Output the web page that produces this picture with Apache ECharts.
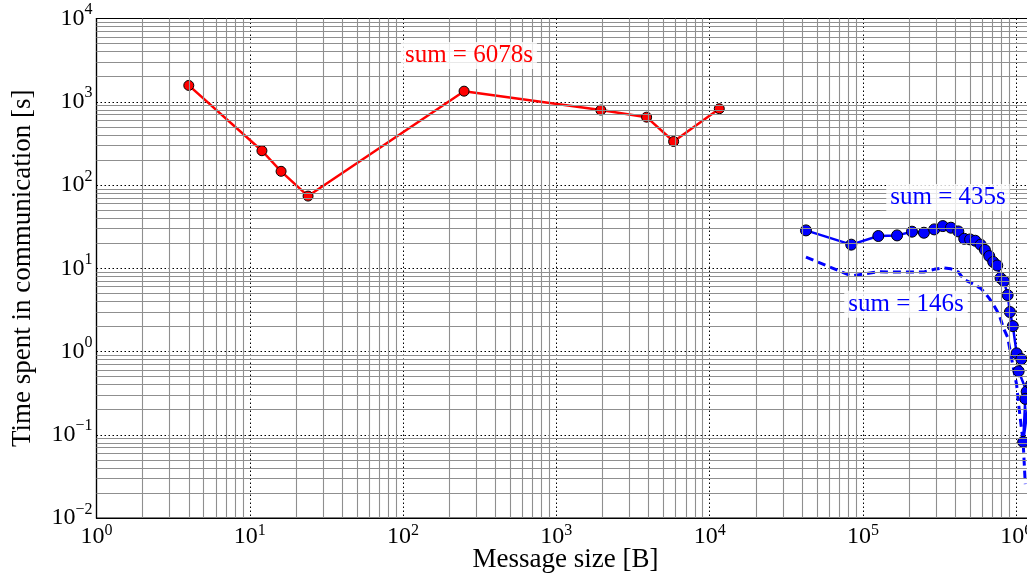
<!DOCTYPE html>
<html><head><meta charset="utf-8">
<script src="https://cdn.jsdelivr.net/npm/echarts@6/dist/echarts.min.js"></script>
<style>html,body{margin:0;padding:0;background:#fff}#c{width:1027px;height:579px}</style>
</head><body><div id="c"></div>
<script>
// ---- data ----
const redX = [4, 12, 16, 24, 250, 1950, 3880, 5820, 11560];
const redY = [1570, 258, 146, 73.6, 1340, 794, 653, 333, 824];

const blueX = [42500, 83900, 126000, 167000, 209000, 250000, 292000, 332000, 375000, 419000,
  458000, 500000, 541000, 586000, 625000, 667000, 708000, 752000, 790000, 832000,
  879000, 910000, 951000, 1006000, 1080000, 1037000, 1170000, 1146000, 1110000, 1250000];
const blueY = [28.5, 19.2, 24.4, 24.8, 27.5, 26.7, 29.3, 32.1, 30.7, 27.7,
  22.6, 22.2, 21.4, 19.2, 16.6, 14.0, 11.9, 10.8, 7.62, 7.0,
  4.76, 2.98, 2.02, 0.95, 0.81, 0.58, 0.33, 0.27, 0.082, 0.4];

const dashX = [42500, 83900, 126000, 167000, 209000, 250000, 292000, 332000, 375000, 419000,
  458000, 500000, 541000, 586000, 625000, 667000, 708000, 752000, 783000, 832000,
  879000, 910000, 951000, 1006000, 1037000, 1110000, 1146000];
const dashY = [13.6, 8.1, 9.06, 9.0, 9.0, 9.0, 9.7, 10.1, 9.84, 9.06,
  7.26, 6.78, 6.24, 5.74, 5.07, 4.35, 3.69, 3.04, 2.58, 1.85,
  1.48, 1.06, 0.68, 0.40, 0.23, 0.081, 0.0255];

const sumLabels = ['sum = 6078s', 'sum = 435s', 'sum = 146s'];
const xName = 'Message size [B]';
const yName = 'Time spent in communication [s]';
const xDecades = [1, 10, 100, 1e3, 1e4, 1e5, 1e6];
const yDecades = [0.01, 0.1, 1, 10, 100, 1000];
const minorSteps = [2, 3, 4, 5, 6, 7, 8, 9];

// ---- helpers ----
const FONT = '"Liberation Serif", "DejaVu Serif", serif';
const zip = (a, b) => a.map((v, i) => [v, b[i]]);
function pow10Label(v) {
  const e = Math.round(Math.log10(v));
  return '{b|10}{e|' + (e < 0 ? '\u2212' + (-e) : e) + '}';
}
const minorX = [], minorY = [];
xDecades.forEach(d => minorSteps.forEach(m => minorX.push({ xAxis: d * m })));
yDecades.forEach(d => minorSteps.forEach(m => minorY.push({ yAxis: d * m })));

const chart = echarts.init(document.getElementById('c'), null, { renderer: 'canvas' });
const majorGrid = { show: true, lineStyle: { color: '#000', width: 1, type: [1.5, 2.5] } };
const axisLineS = { show: true, lineStyle: { color: '#000', width: 1.2 } };

chart.setOption({
  animation: false,
  backgroundColor: '#fff',
  grid: { left: 96.5, top: 18.5, width: 1073, height: 499.5, show: true,
    containLabel: false, outerBoundsMode: 'none',
    borderColor: '#000', borderWidth: 1.2, backgroundColor: '#fff' },
  xAxis: {
    type: 'log', logBase: 10, min: 1, max: 1e7,
    axisLine: axisLineS, axisTick: { show: false },
    splitLine: majorGrid,
    axisLabel: {
      margin: 5, formatter: pow10Label, color: '#000',
      rich: {
        b: { fontFamily: FONT, fontSize: 24, color: '#000', lineHeight: 27 },
        e: { fontFamily: FONT, fontSize: 16, color: '#000', lineHeight: 16, verticalAlign: 'top' }
      }
    }
  },
  yAxis: {
    type: 'log', logBase: 10, min: 0.01, max: 1e4,
    axisLine: axisLineS, axisTick: { show: false },
    splitLine: majorGrid,
    name: yName, nameLocation: 'middle', nameGap: 60, nameRotate: 90,
    nameTextStyle: { fontFamily: FONT, fontSize: 27, color: '#000' },
    axisLabel: {
      margin: 4, formatter: pow10Label, color: '#000',
      rich: {
        b: { fontFamily: FONT, fontSize: 24, color: '#000', lineHeight: 33 },
        e: { fontFamily: FONT, fontSize: 16, color: '#000', lineHeight: 16, verticalAlign: 'top' }
      }
    }
  },
  graphic: [{
    type: 'text', x: 565.5, y: 560,
    style: { text: xName, fontFamily: FONT, fontSize: 27, fill: '#000', align: 'center', verticalAlign: 'middle' }
  }],
  series: [
    {
      type: 'line', data: [], z: 1, silent: true,
      markLine: {
        silent: true, symbol: ['none', 'none'], label: { show: false },
        lineStyle: { color: '#8f8f8f', width: 1.1, type: 'solid' },
        emphasis: { disabled: true },
        data: minorX.concat(minorY)
      }
    },
    {
      name: 'dashed', type: 'line', z: 3, data: zip(dashX, dashY), showSymbol: false,
      lineStyle: { color: '#0000ff', width: 3, type: [8, 5] },
      markPoint: {
        symbol: 'circle', symbolSize: 1, itemStyle: { color: 'rgba(0,0,0,0)' },
        label: { show: true, position: 'inside', fontFamily: FONT, fontSize: 25, color: '#0000ff',
          backgroundColor: 'rgba(255,255,255,0.8)', padding: [1, 4] },
        data: [{ coord: [191000, 3.69], value: sumLabels[2], label: { formatter: sumLabels[2] } }]
      }
    },
    {
      name: 'solid', type: 'line', z: 4, data: zip(blueX, blueY),
      symbol: 'circle', symbolSize: 11, showSymbol: true,
      lineStyle: { color: '#0000ff', width: 2.5 },
      itemStyle: { color: '#0000ff', borderColor: '#000', borderWidth: 1 },
      markPoint: {
        symbol: 'circle', symbolSize: 1, itemStyle: { color: 'rgba(0,0,0,0)', borderWidth: 0 },
        label: { show: true, position: 'inside', fontFamily: FONT, fontSize: 25, color: '#0000ff',
          backgroundColor: 'rgba(255,255,255,0.8)', padding: [1, 4] },
        data: [{ coord: [359000, 71], value: sumLabels[1], label: { formatter: sumLabels[1] } }]
      }
    },
    {
      name: 'red', type: 'line', z: 4, data: zip(redX, redY),
      symbol: 'circle', symbolSize: 10, showSymbol: true,
      lineStyle: { color: '#ff0000', width: 2.5 },
      itemStyle: { color: '#ff0000', borderColor: '#000', borderWidth: 1 },
      markPoint: {
        symbol: 'circle', symbolSize: 1, itemStyle: { color: 'rgba(0,0,0,0)', borderWidth: 0 },
        label: { show: true, position: 'inside', fontFamily: FONT, fontSize: 25, color: '#ff0000',
          backgroundColor: 'rgba(255,255,255,0.8)', padding: [1, 4] },
        data: [{ coord: [269, 3594], value: sumLabels[0], label: { formatter: sumLabels[0] } }]
      }
    }
  ]
});
</script>
</body></html>
